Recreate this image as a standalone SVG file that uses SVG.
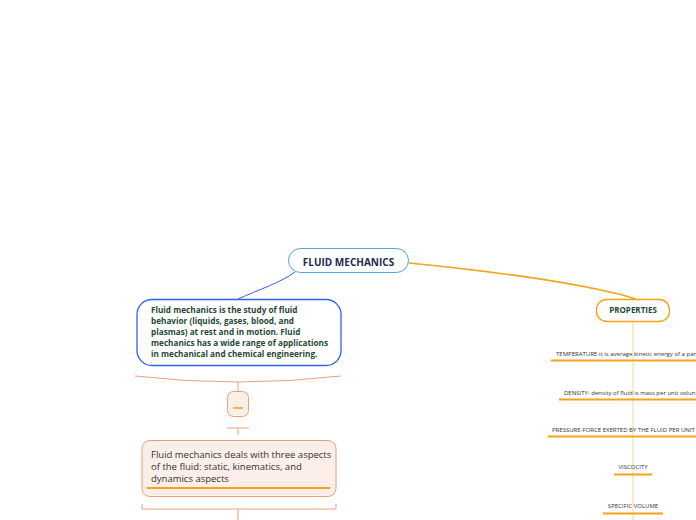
<svg xmlns="http://www.w3.org/2000/svg" width="696" height="520" viewBox="0 0 696 520">
<style>
.t{font-family:"Open Sans","Noto Sans","Liberation Sans",sans-serif}
.b{font-weight:bold}
.sm{font-size:6px;fill:#333333}
.ul{stroke:#f7a21b;stroke-width:2;fill:none}
.peach{fill:#fcefe9;stroke:#e9a07e;stroke-width:1}
</style>
<rect width="696" height="520" fill="#ffffff"/>
<g id="connectors" fill="none">
<path d="M238,299 C258,290 282,282 295,272" stroke="#2f62e6" stroke-width="1"/>
<path d="M409,263 C500,272 590,285 636,299" stroke="#f7a21b" stroke-width="1.5"/>
<path d="M633,321 V520" stroke="#fdd59a" stroke-width="1"/>
<path d="M135,376 Q238,388 341,376" stroke="#e9a07e" stroke-width="1"/>
<path d="M238,382 V391" stroke="#e9a07e" stroke-width="1"/>
<path d="M227,428 H249" stroke="#f2c0a8" stroke-width="1.5"/>
<path d="M238,428 V435" stroke="#e9a07e" stroke-width="1"/>
<path d="M142,504 V509 H336 V504 M238,509 V520" stroke="#e9a07e" stroke-width="1"/>
</g>
<g id="root">
<rect x="288.5" y="248.5" width="120" height="24" rx="12" fill="#ffffff" stroke="#4ea6e3" stroke-width="1"/>
<text class="t b" x="348.5" y="265.5" font-size="10" fill="#1b2a4e" text-anchor="middle">FLUID MECHANICS</text>
</g>
<g id="definition">
<rect x="137" y="299.5" width="204" height="66" rx="15" fill="#ffffff" stroke="#2f62e6" stroke-width="1.3"/>
<g class="t b" font-size="8.2" fill="#1f4a33">
<text x="151" y="313">Fluid mechanics is the study of fluid</text>
<text x="151" y="324">behavior (liquids, gases, blood, and</text>
<text x="151" y="335">plasmas) at rest and in motion. Fluid</text>
<text x="151" y="346">mechanics has a wide range of applications</text>
<text x="151" y="357">in mechanical and chemical engineering.</text>
</g>
</g>
<g id="collapse">
<rect class="peach" x="227.5" y="391.5" width="21" height="25" rx="6"/>
<path d="M233,408 H243" stroke="#f7a21b" stroke-width="1.5"/>
</g>
<g id="aspects">
<rect class="peach" x="142" y="440.5" width="194" height="56" rx="8"/>
<g class="t" font-size="9.5" fill="#333333">
<text x="151" y="458">Fluid mechanics deals with three aspects</text>
<text x="151" y="470">of the fluid: static, kinematics, and</text>
<text x="151" y="482">dynamics aspects</text>
</g>
<path class="ul" d="M147,488 H330"/>
</g>
<g id="properties">
<rect x="596.5" y="299.5" width="73" height="22" rx="10" fill="#ffffff" stroke="#f7a21b" stroke-width="1.3"/>
<text class="t b" x="633" y="313.3" font-size="8" fill="#1f4a33" text-anchor="middle">PROPERTIES</text>
</g>
<g id="temperature">
<text class="t sm" x="556" y="356">TEMPERATURE-it is average kinetic energy of a par</text>
<path class="ul" d="M551,360.5 H696"/>
</g>
<g id="density">
<text class="t sm" x="564" y="394.5">DENSITY- density of fluid is mass per unit volun</text>
<path class="ul" d="M559,399.5 H696"/>
</g>
<g id="pressure">
<text class="t sm" x="552" y="432">PRESSURE-FORCE EXERTED BY THE FLUID PER UNIT</text>
<path class="ul" d="M548,436.5 H696"/>
</g>
<g id="viscocity">
<text class="t sm" x="633" y="469" text-anchor="middle">VISCOCITY</text>
<path class="ul" d="M614,474.5 H652"/>
</g>
<g id="specific-volume">
<text class="t sm" x="633" y="508" text-anchor="middle">SPECIFIC VOLUME</text>
<path class="ul" d="M603,513.5 H663"/>
</g>
</svg>
